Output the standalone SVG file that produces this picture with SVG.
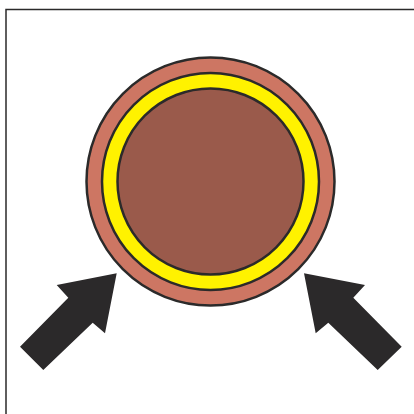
<svg xmlns="http://www.w3.org/2000/svg" width="414" height="414" viewBox="0 0 414 414">
<style>
.ring{stroke:#2b2a2a;stroke-width:2.5}
.arrow{fill:#2b292a}
</style>
<rect x="0" y="0" width="414" height="414" fill="#fff"/>
<rect x="6" y="9.5" width="420" height="420" fill="none" stroke="#2b2a2a" stroke-width="1.5"/>
<g id="rings">
<circle class="ring" cx="210.5" cy="181.5" r="124" fill="#cd7663"/>
<circle class="ring" cx="210.5" cy="181.5" r="108.5" fill="#fff200"/>
<circle class="ring" cx="210.5" cy="181.5" r="93" fill="#9a5a4b"/>
</g>
<g id="arrows">
<polygon id="arrow-left" class="arrow" points="116.7,273.3 56.7,285 68.3,297.7 20,346.7 43.3,370 92.7,322.7 105,333.3"/>
<polygon id="arrow-right" class="arrow" points="304,273.3 365,285 353.3,297.7 401.7,346.7 377.7,370 328.3,322.7 315.7,333.3"/>
</g>
</svg>
